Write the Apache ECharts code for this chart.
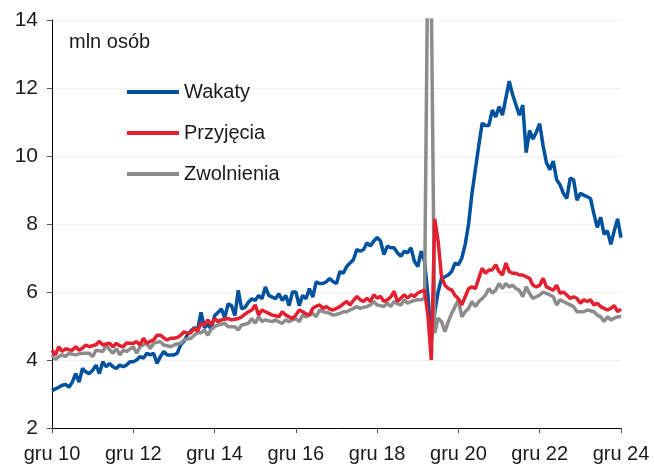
<!DOCTYPE html>
<html>
<head>
<meta charset="utf-8">
<script src="https://cdn.jsdelivr.net/npm/echarts@6/dist/echarts.min.js"></script>
<style>
  html, body { margin: 0; padding: 0; background: #fff; }
  #wykres { width: 654px; height: 464px; }
</style>
</head>
<body>
<div id="wykres"></div>
<script>
// miesiące od grudnia 2010 do grudnia 2024
var miesiace = ['sty','lut','mar','kwi','maj','cze','lip','sie','wrz','paź','lis','gru'];
var rokStart = 2010, mcStart = 11, liczbaMies = 169;

var nazwySerii = ['Wakaty', 'Przyjęcia', 'Zwolnienia'];

// wakaty (mln osób)
var wakaty = [
  3.1,
  3.15, 3.2, 3.26, 3.28, 3.2, 3.35, 3.6, 3.35, 3.75, 3.65, 3.6, 3.7,
  3.85, 3.6, 3.95, 3.8, 3.9, 3.8, 3.75, 3.85, 3.8, 3.85, 3.95, 3.95,
  4.0, 4.1, 4.05, 4.2, 4.15, 4.2, 3.9, 4.1, 4.25, 4.15, 4.15, 4.15,
  4.2, 4.45, 4.55, 4.75, 4.85, 4.95, 4.9, 5.4, 4.95, 5.05, 4.9, 5.3,
  5.4, 5.5, 5.25, 5.65, 5.6, 5.3, 6.05, 5.5, 5.55, 5.7, 5.8, 5.75,
  5.9, 5.8, 6.15, 5.9, 5.85, 5.8, 5.95, 5.75, 5.9, 5.6, 6.0, 6.0,
  5.6, 5.9, 5.8, 6.1, 5.85, 6.3, 6.25, 6.25, 6.3, 6.4, 6.3, 6.25,
  6.6, 6.55, 6.75, 6.85, 6.95, 7.25, 7.2, 7.25, 7.45, 7.35, 7.5, 7.6,
  7.5, 7.1, 7.35, 7.3, 7.3, 7.15, 7.05, 7.2, 7.15, 7.3, 6.9, 6.75,
  7.2, 6.9, 5.9, 4.6, 5.4, 6.0, 6.4, 6.45, 6.5, 6.6, 6.85, 6.8,
  7.0, 7.4, 8.0, 8.9, 9.6, 10.3, 10.96, 10.9, 10.9, 11.35, 11.15, 11.45,
  11.2, 11.7, 12.2, 11.8, 11.5, 11.2, 11.5, 10.1, 10.75, 10.5, 10.7, 10.95,
  10.3, 9.8, 9.6, 9.85, 9.3, 9.15, 8.9, 8.75, 9.35, 9.3, 8.7, 8.9,
  8.85, 8.8, 8.75, 8.3, 7.9, 8.2, 7.7, 7.8, 7.4, 7.8, 8.15, 7.6
];

// przyjęcia (mln osób)
var przyjecia = [
  4.29,
  4.15, 4.39, 4.25, 4.33, 4.3, 4.29, 4.39, 4.29, 4.35, 4.44, 4.39, 4.42,
  4.45, 4.55, 4.44, 4.47, 4.49, 4.39, 4.49, 4.42, 4.39, 4.5, 4.49, 4.49,
  4.54, 4.44, 4.64, 4.49, 4.55, 4.59, 4.73, 4.73, 4.65, 4.59, 4.64, 4.64,
  4.66, 4.73, 4.83, 4.78, 4.8, 4.93, 4.85, 5.08, 5.03, 5.18, 5.03, 5.22,
  5.13, 5.18, 5.2, 5.22, 5.18, 5.2, 5.22, 5.27, 5.35, 5.42, 5.47, 5.62,
  5.32, 5.47, 5.42, 5.37, 5.32, 5.3, 5.27, 5.42, 5.32, 5.27, 5.22, 5.32,
  5.47, 5.42, 5.36, 5.32, 5.52, 5.58, 5.62, 5.52, 5.57, 5.5, 5.47, 5.52,
  5.57, 5.65, 5.72, 5.62, 5.75, 5.87, 5.77, 5.72, 5.82, 5.72, 5.92, 5.82,
  5.87, 5.72, 5.77, 5.85, 6.02, 5.72, 5.82, 5.92, 5.82, 5.92, 5.87, 5.97,
  6.02, 6.05, 5.3, 4.0, 8.15, 7.5, 6.45, 6.2, 6.1, 6.06, 5.9, 5.8,
  5.62, 5.86, 6.1, 6.15, 6.1, 6.4, 6.7, 6.55, 6.65, 6.65, 6.8, 6.6,
  6.5, 6.85, 6.6, 6.55, 6.55, 6.5, 6.5, 6.45, 6.4, 6.2, 6.15, 6.2,
  6.4, 6.15, 6.1, 6.05, 6.2, 5.96, 6.0, 5.91, 5.81, 5.86, 5.81, 5.67,
  5.77, 5.72, 5.77, 5.62, 5.67, 5.57, 5.52, 5.47, 5.52, 5.6, 5.42, 5.5
];

// zwolnienia (mln osób)
var zwolnienia = [
  4.15,
  4.02, 4.1, 4.15, 4.1, 4.2, 4.17, 4.15, 4.18, 4.2, 4.2, 4.2, 4.1,
  4.29, 4.27, 4.25, 4.44, 4.3, 4.2, 4.34, 4.15, 4.29, 4.25, 4.32, 4.39,
  4.2, 4.39, 4.45, 4.49, 4.34, 4.49, 4.52, 4.54, 4.44, 4.42, 4.39, 4.44,
  4.47, 4.49, 4.59, 4.62, 4.64, 4.73, 4.8, 4.8, 4.88, 4.73, 4.9, 4.98,
  5.03, 5.05, 5.08, 4.98, 4.98, 4.98, 4.88, 5.03, 5.05, 5.08, 5.22, 5.08,
  5.27, 5.13, 5.18, 5.15, 5.13, 5.18, 5.12, 5.08, 5.18, 5.13, 5.18, 5.22,
  5.13, 5.32, 5.27, 5.32, 5.37, 5.27, 5.47, 5.42, 5.4, 5.37, 5.32, 5.34,
  5.37, 5.42, 5.42, 5.47, 5.52, 5.57, 5.52, 5.55, 5.57, 5.62, 5.72, 5.62,
  5.6, 5.57, 5.67, 5.57, 5.72, 5.65, 5.62, 5.77, 5.67, 5.72, 5.75, 5.77,
  5.77, 5.82, 16.4, 14.6, 4.79, 5.23, 5.13, 4.83, 5.13, 5.37, 5.57, 5.76,
  5.27, 5.42, 5.52, 5.72, 5.57, 5.72, 5.81, 5.91, 6.1, 5.96, 6.06, 6.25,
  6.1, 6.25, 6.15, 6.2, 6.1, 6.05, 5.86, 6.15, 5.96, 5.81, 5.86, 5.91,
  6.0, 5.96, 5.91, 5.86, 5.62, 5.77, 5.72, 5.67, 5.62, 5.57, 5.42, 5.42,
  5.42, 5.47, 5.45, 5.42, 5.32, 5.27, 5.13, 5.27, 5.18, 5.23, 5.27, 5.27
];

var kategorie = [];
for (var i = 0; i < liczbaMies; i++) {
  var m = (mcStart + i) % 12;
  var r = rokStart + Math.floor((mcStart + i) / 12);
  kategorie.push(miesiace[m] + ' ' + String(r).slice(2));
}

var czcionka = "'Liberation Sans', Arial, sans-serif";

var co24 = function (idx) { return idx % 24 === 0; };

var myChart = echarts.init(document.getElementById('wykres'));

var option = {
  animation: false,
  title: {
    text: 'mln osób',
    left: 69,
    top: 32,
    padding: 0,
    textStyle: { fontFamily: czcionka, fontSize: 20, fontWeight: 'normal', color: '#1a1a1a' }
  },
  legend: {
    data: nazwySerii,
    orient: 'vertical',
    left: 127,
    top: 82,
    padding: 0,
    icon: 'rect',
    itemWidth: 52,
    itemHeight: 4,
    itemGap: 21,
    textStyle: { fontFamily: czcionka, fontSize: 20, color: '#1a1a1a', lineHeight: 20 }
  },
  grid: { left: 52, right: 33, top: 20, bottom: 36 },
  xAxis: {
    type: 'category',
    data: kategorie,
    boundaryGap: false,
    axisLine: { lineStyle: { color: '#000', width: 1 } },
    axisTick: { interval: co24, length: 5, lineStyle: { color: '#555' } },
    axisLabel: {
      interval: co24,
      fontFamily: czcionka,
      fontSize: 20,
      color: '#1a1a1a',
      margin: 16
    },
    splitLine: { show: false }
  },
  yAxis: {
    type: 'value',
    min: 2,
    max: 14,
    interval: 2,
    axisLine: { show: true, lineStyle: { color: '#000', width: 1 } },
    axisTick: { show: true, length: 5, lineStyle: { color: '#555' } },
    axisLabel: { fontFamily: czcionka, fontSize: 21, color: '#1a1a1a', margin: 14 },
    splitLine: { lineStyle: { color: '#efefef', width: 1 } }
  },
  series: [
    {
      name: 'Wakaty',
      type: 'line',
      data: wakaty,
      symbol: 'none',
      color: '#00519e',
      lineStyle: { width: 3.5 }
    },
    {
      name: 'Zwolnienia',
      type: 'line',
      data: zwolnienia,
      symbol: 'none',
      color: '#8c8c8c',
      lineStyle: { width: 3.5 }
    },
    {
      name: 'Przyjęcia',
      type: 'line',
      data: przyjecia,
      symbol: 'none',
      color: '#e3202f',
      lineStyle: { width: 3.5 }
    }
  ]
};

myChart.setOption(option);
</script>
</body>
</html>
